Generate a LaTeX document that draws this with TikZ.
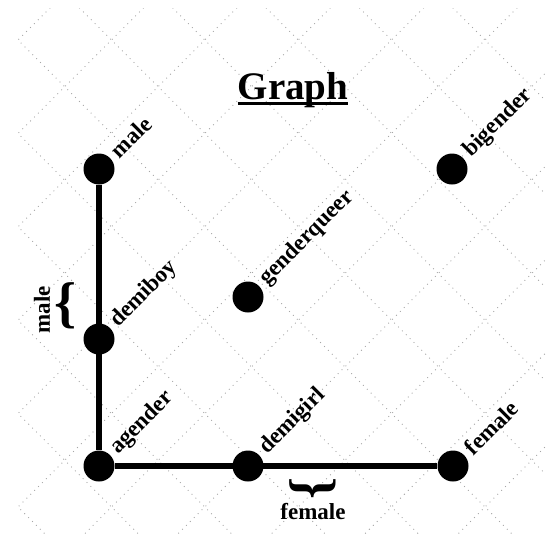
\documentclass[tikz,border=0pt]{standalone}
\usepackage{fontspec}
\setmainfont{Liberation Serif}

\begin{document}
\begin{tikzpicture}[
    x=1pt, y=-1pt,
    dot/.style={circle, fill=black, minimum size=31pt, inner sep=0pt},
    tag/.style={font=\fontsize{23}{23}\selectfont\bfseries, rotate=45, anchor=west, inner sep=0pt},
    side/.style={font=\fontsize{23}{23}\selectfont\bfseries, inner sep=0pt},
    brace/.style={font=\fontsize{56}{56}\selectfont\bfseries, inner sep=0pt},
    grid line/.style={black!35, line width=0.9pt, dash pattern=on 0.9pt off 4.6pt},
    link/.style={line width=5.5pt},
  ]
    \useasboundingbox (0,0) rectangle (556,539);

    % dotted background
    \begin{scope}
      \clip (18,8) rectangle (545,535);
      \foreach \k in {-6,...,11} {
        \draw[grid line] (58+93.4*\k,0) -- ++(-600,600);
        \draw[grid line] (-22+93.4*\k,0) -- ++(600,600);
      }
    \end{scope}

    % title
    \node[font=\fontsize{39}{39}\selectfont\bfseries, anchor=base, inner sep=0pt] (title) at (293,99) {Graph};
    \draw[line width=3pt] ([yshift=-4pt]title.base west) -- ([yshift=-4pt]title.base east);

    % points
    \node[dot] (male) at (99,169) {};
    \node[dot] (demiboy) at (99,339) {};
    \node[dot] (agender) at (99,466) {};
    \node[dot] (demigirl) at (248,466) {};
    \node[dot] (female) at (453,466) {};
    \node[dot] (genderqueer) at (248,297) {};
    \node[dot] (bigender) at (452,169) {};

    % axes
    \draw[link] (male) -- (agender);
    \draw[link] (agender) -- (female);

    % names
    \node[tag] (male-tag) at ([shift={(4pt,4pt)}]male.45) {male};
    \node[tag] (demiboy-tag) at ([shift={(4pt,4pt)}]demiboy.45) {demiboy};
    \node[tag] (agender-tag) at ([shift={(4pt,4pt)}]agender.45) {agender};
    \node[tag] (demigirl-tag) at ([shift={(4pt,4pt)}]demigirl.45) {demigirl};
    \node[tag] (female-tag) at ([shift={(4pt,4pt)}]female.45) {female};
    \node[tag] (genderqueer-tag) at ([shift={(4pt,4pt)}]genderqueer.45) {genderqueer};
    \node[tag] (bigender-tag) at ([shift={(4pt,4pt)}]bigender.45) {bigender};

    % braces
    \node[brace] (male-brace) at (66,306) {\{};
    \node[side, rotate=90] (male-side) at (42,310) {male};
    \node[brace, rotate=90] (female-brace) at (313,488) {\{};
    \node[side] (female-side) at (313,512) {female};
  \end{tikzpicture}
\end{document}
